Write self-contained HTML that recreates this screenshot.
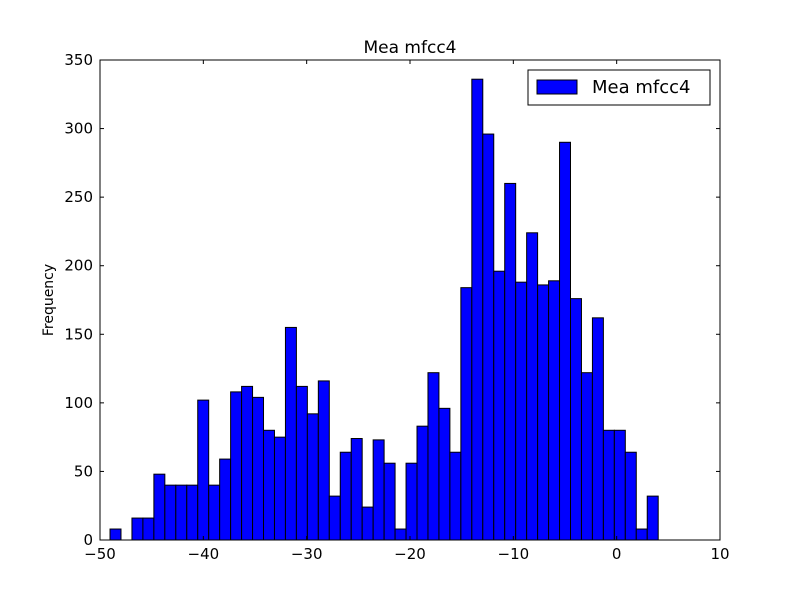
<!DOCTYPE html>
<html><head><meta charset="utf-8"><style>
html,body{margin:0;padding:0;background:#fff;}
text{font-family:"DejaVu Sans","Liberation Sans",sans-serif;}
</style></head><body>
<svg id="chart" width="800" height="600" xmlns="http://www.w3.org/2000/svg">
<rect width="800" height="600" fill="#fff"/>
<g id="bars"></g>
<g id="axes"></g>
<text x="410" y="53" text-anchor="middle" font-size="17">Mea mfcc4</text>
<text transform="translate(53,300) rotate(-90)" text-anchor="middle" font-size="14">Frequency</text>
<g>
<rect x="528" y="70" width="182" height="35" fill="#fff" stroke="#000" stroke-width="1"/>
<rect x="537" y="80" width="40" height="14" fill="#0000ff" stroke="#000"/>
<text x="592" y="93" font-size="18">Mea mfcc4</text>
</g>
</svg>
<script>
const counts=[8,0,16,16,48,40,40,40,102,40,59,108,112,104,80,75,155,112,92,116,32,64,74,24,73,56,8,56,83,122,96,64,184,336,296,196,260,188,224,186,189,290,176,122,162,80,80,64,8,32];
const binStart=-49.03;
const binWidth=1.061;
const xTicks=[-50,-40,-30,-20,-10,0,10];
const yTicks=[0,50,100,150,200,250,300,350];
const X0=100,X1=720,Y0=540,Y1=60;
const sx=v=>X0+(v-(-50))/(60)*(X1-X0);
const sy=v=>Y0-v/350*(Y0-Y1);
const NS="http://www.w3.org/2000/svg";
const bars=document.getElementById('bars');
counts.forEach((c,i)=>{
 const a=sx(binStart+i*binWidth),b=sx(binStart+(i+1)*binWidth);
 const r=document.createElementNS(NS,'rect');
 r.setAttribute('x',a);r.setAttribute('y',sy(c));
 r.setAttribute('width',b-a);r.setAttribute('height',Y0-sy(c));
 r.setAttribute('fill','#0000ff');r.setAttribute('stroke','#000');r.setAttribute('stroke-width','1');
 
 
 bars.appendChild(r);
});
const ax=document.getElementById('axes');
let h='<rect x="100" y="60" width="620" height="480" fill="none" stroke="#000" stroke-width="1"/>';
xTicks.forEach(t=>{const x=sx(t);
 h+=`<line x1="${x}" y1="540" x2="${x}" y2="536" stroke="#000"/><line x1="${x}" y1="60" x2="${x}" y2="64" stroke="#000"/>`;
 h+=`<text x="${x}" y="559" text-anchor="middle" font-size="15">${t<0?'\u2212'+(-t):t}</text>`;});
yTicks.forEach(t=>{const y=sy(t);
 h+=`<line x1="100" y1="${y}" x2="104" y2="${y}" stroke="#000"/><line x1="720" y1="${y}" x2="716" y2="${y}" stroke="#000"/>`;
 h+=`<text x="93" y="${y+5}" text-anchor="end" font-size="15">${t}</text>`;});
ax.innerHTML=h;
</script>
</body></html>
